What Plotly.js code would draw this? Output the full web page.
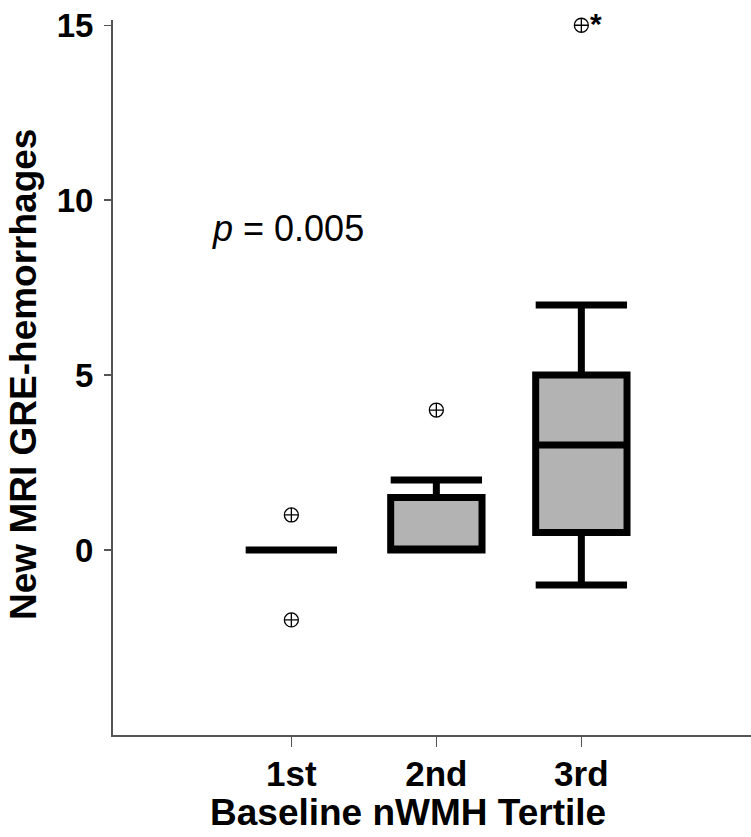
<!DOCTYPE html>
<html>
<head>
<meta charset="utf-8">
<script src="https://cdn.plot.ly/plotly-3.0.1.min.js"></script>
<style>html,body{margin:0;padding:0;background:#fff;}#chart{width:751px;height:837px;}</style>
</head>
<body>
<div id="chart"></div>
<script>
// Data
const categories = ['1st', '2nd', '3rd'];
const lowerWhisker = [0, 0, -1];
const q1Values = [0, 0, 0.5];
const medianValues = [0, 0, 3];
const q3Values = [0, 1.5, 5];
const upperWhisker = [0, 2, 7];

const outlierCategories = ['1st', '1st', '2nd'];
const outlierValues = [1, -2, 4];
const extremeCategories = ['3rd'];
const extremeValues = [15];
const extremeLabel = '*';

const yTickValues = [0, 5, 10, 15];
const pValueText = '<i>p</i> = 0.005';
const xTitleText = 'Baseline nWMH Tertile';
const yTitleText = 'New MRI GRE-hemorrhages';

const fontFam = '"Liberation Sans", Arial, Helvetica, sans-serif';

const traces = [
  {
    type: 'box',
    x: categories,
    q1: q1Values,
    median: medianValues,
    q3: q3Values,
    lowerfence: lowerWhisker,
    upperfence: upperWhisker,
    boxpoints: false,
    width: 0.63,
    whiskerwidth: 1,
    fillcolor: '#b3b3b3',
    line: {color: '#000000', width: 7},
    hoverinfo: 'skip',
    showlegend: false
  },
  {
    type: 'scatter',
    mode: 'markers',
    x: outlierCategories.concat(extremeCategories),
    y: outlierValues.concat(extremeValues),
    marker: {symbol: 'circle-cross-open', size: 14, color: '#000000', line: {width: 1.3, color: '#000000'}},
    showlegend: false,
    hoverinfo: 'skip',
    cliponaxis: false
  }
];

const layout = {
  width: 751,
  height: 837,
  margin: {l: 113, r: 0, t: 20, b: 102},
  paper_bgcolor: '#ffffff',
  plot_bgcolor: '#ffffff',
  showlegend: false,
  font: {family: fontFam, color: '#000000'},
  xaxis: {
    type: 'category',
    categoryorder: 'array',
    categoryarray: categories,
    range: [-1.23, 3.17],
    showline: true,
    linecolor: '#555555',
    linewidth: 2,
    ticks: 'outside',
    ticklen: 10,
    tickwidth: 1.5,
    tickcolor: '#555555',
    ticklabelstandoff: -3,
    showgrid: false,
    zeroline: false,
    tickfont: {family: fontFam, size: 35, color: '#000000', weight: 'bold'}
  },
  yaxis: {
    range: [-5.29, 15.15],
    tickvals: yTickValues,
    showline: true,
    linecolor: '#555555',
    linewidth: 2,
    ticks: 'outside',
    ticklen: 7,
    tickwidth: 1.5,
    tickcolor: '#555555',
    ticklabelstandoff: 4,
    showgrid: false,
    zeroline: false,
    tickfont: {family: fontFam, size: 33, color: '#000000', weight: 'bold'}
  },
  annotations: [
    {
      x: -0.56,
      y: 9.2,
      xref: 'x',
      yref: 'y',
      text: pValueText,
      showarrow: false,
      xanchor: 'left',
      yanchor: 'middle',
      font: {family: fontFam, size: 36, color: '#000000'}
    },
    {
      x: extremeCategories[0],
      y: extremeValues[0],
      xref: 'x',
      yref: 'y',
      text: extremeLabel,
      showarrow: false,
      xanchor: 'left',
      yanchor: 'middle',
      xshift: 7,
      yshift: 2,
      font: {family: fontFam, size: 30, color: '#000000', weight: 'bold'}
    },
    {
      x: 0.4624,
      y: -0.108,
      xref: 'paper',
      yref: 'paper',
      text: xTitleText,
      showarrow: false,
      xanchor: 'center',
      yanchor: 'middle',
      font: {family: fontFam, size: 37, color: '#000000', weight: 'bold'}
    },
    {
      x: -0.1395,
      y: 0.505,
      xref: 'paper',
      yref: 'paper',
      text: yTitleText,
      textangle: -90,
      showarrow: false,
      xanchor: 'center',
      yanchor: 'middle',
      font: {family: fontFam, size: 37, color: '#000000', weight: 'bold'}
    }
  ]
};

Plotly.newPlot('chart', traces, layout, {displayModeBar: false, staticPlot: true});
</script>
</body>
</html>
